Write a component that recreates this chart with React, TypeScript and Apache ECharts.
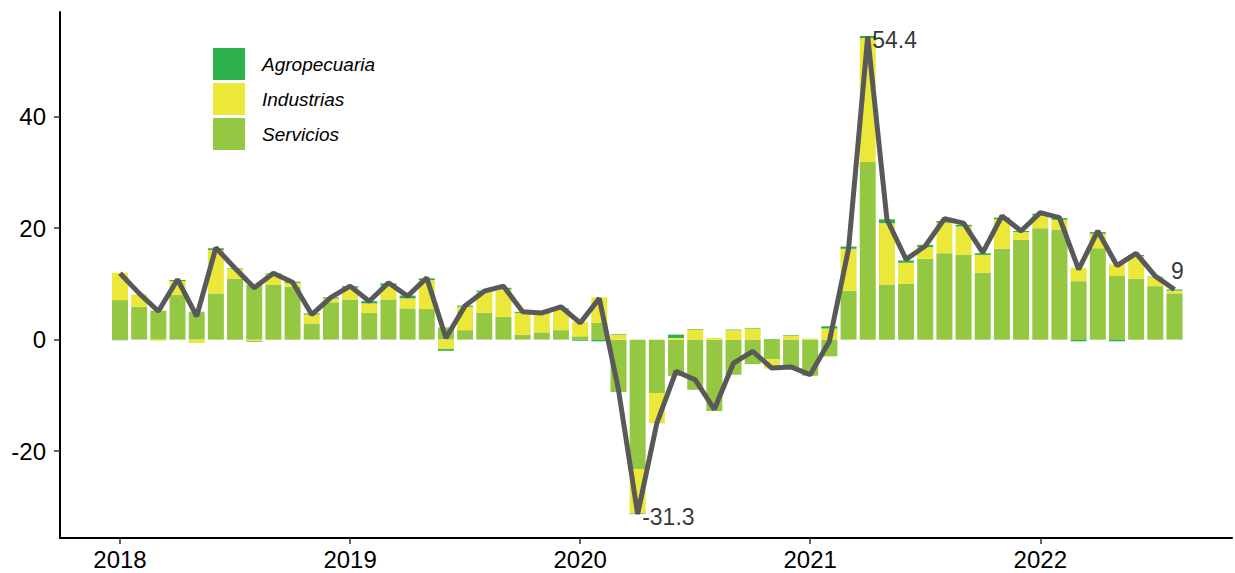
import React, { useEffect, useRef } from "react";
import * as echarts from "echarts";

// Month index 0 = Jan 2018 ... 55 = Aug 2022
const yearTicks = [0, 12, 24, 36, 48];
const yearLabels = ["2018", "2019", "2020", "2021", "2022"];
const yTicks = [-20, 0, 20, 40];

const servicios = [
  7.1, 5.9, 5.2, 8.0, 4.9, 8.3, 10.9, 9.8, 9.9, 9.5, 2.9, 6.7,
  7.2, 4.8, 7.2, 5.6, 5.5, 2.2, 1.7, 4.8, 4.1, 0.9, 1.3, 1.7,
  0.6, 3.0, -9.4, -23.2, -9.6, -6.5, -9.0, -12.8, -6.3, -4.4, -3.5, -4.9,
  -6.5, -3.0, 8.8, 31.9, 9.9, 10.0, 14.5, 15.5, 15.2, 12.0, 16.3, 17.9,
  20.0, 19.7, 10.5, 16.4, 11.4, 10.9, 9.6, 8.3,
];
const industrias = [
  4.9, 2.2, -0.2, 2.5, -0.6, 7.8, 1.8, -0.3, 1.9, 0.7, 1.6, 0.7,
  2.1, 1.7, 2.5, 1.8, 5.2, -1.7, 4.2, 3.8, 4.9, 3.9, 3.4, 3.7,
  2.6, 4.6, 0.9, -8.0, -5.4, 0.3, 1.8, 0.3, 1.7, 2.0, -1.7, 0.7,
  0.2, 2.0, 7.5, 22.2, 11.0, 3.8, 2.1, 5.5, 5.1, 3.2, 5.3, 1.4,
  2.3, 1.8, 2.4, 2.6, 2.1, 4.1, 1.6, 0.5,
];
const agropecuaria = [
  -0.1, 0.0, 0.0, 0.2, 0.1, 0.3, 0.1, -0.1, 0.1, 0.2, 0.2, 0.2,
  0.3, 0.4, 0.4, 0.5, 0.3, -0.3, 0.2, 0.2, 0.3, 0.2, 0.1, 0.2,
  -0.2, -0.3, 0.1, -0.1, 0.0, 0.6, 0.1, 0.0, 0.1, 0.1, 0.1, 0.1,
  0.0, 0.4, 0.4, 0.4, 0.7, 0.4, 0.4, 0.3, 0.3, 0.3, 0.3, 0.2,
  0.3, 0.3, -0.3, 0.3, -0.3, 0.2, 0.1, 0.2,
];
const total = [
  11.9, 8.3, 5.1, 10.8, 4.2, 16.5, 12.8, 9.3, 11.9, 10.3, 4.5, 7.6,
  9.6, 6.9, 10.2, 7.8, 11.1, 0.3, 6.1, 8.7, 9.6, 5.0, 4.8, 5.9,
  3.0, 7.4, -9.0, -31.3, -15.0, -5.7, -7.2, -12.5, -4.2, -2.1, -5.1, -4.9,
  -6.3, -0.3, 16.3, 54.4, 21.6, 14.4, 16.8, 21.7, 20.9, 15.6, 22.2, 19.5,
  22.8, 21.9, 12.6, 19.5, 13.3, 15.5, 11.4, 9.0,
];
const labelledPoints = [27, 39, 55];

const FONT = "'Liberation Sans', Arial, sans-serif";

export default function App() {
  const ref = useRef<HTMLDivElement>(null);
  useEffect(() => {
    if (!ref.current) return;
    const chart = echarts.init(ref.current, undefined, { renderer: "svg" });
    // value first so that it is the stacked dimension; month index second
    const toStackPairs = (arr: number[]) => arr.map((v, i) => [v, i]);
    const toPairs = (arr: number[]) => arr.map((v, i) => [i, v]);
    const barCommon = {
      type: "bar",
      stack: "total",
      barWidth: 16,
      stackStrategy: "samesign",
      encode: { x: 1, y: 0 },
    };
    chart.setOption({
      animation: false,
      textStyle: { fontFamily: FONT },
      grid: { left: 60, right: 3, top: 12, bottom: 35, containLabel: false },
      legend: {
        orient: "vertical",
        left: 213,
        top: 48,
        padding: 0,
        icon: "rect",
        itemWidth: 32,
        itemHeight: 32,
        itemGap: 3,
        data: ["Agropecuaria", "Industrias", "Servicios"],
        textStyle: {
          fontFamily: FONT,
          fontSize: 19,
          fontStyle: "italic",
          color: "#000",
          padding: [0, 0, 0, 12],
        },
      },
      xAxis: {
        type: "value",
        min: -3.13,
        max: 58.0,
        splitLine: { show: false },
        axisLine: { show: true, onZero: false, lineStyle: { color: "#000", width: 2 } },
        axisTick: {
          show: true,
          length: 6,
          lineStyle: { color: "#333", width: 1.5 },
          customValues: yearTicks,
        },
        axisLabel: {
          customValues: yearTicks,
          formatter: (v: number) => yearLabels[yearTicks.indexOf(Math.round(v))] ?? "",
          fontSize: 24,
          color: "#000",
          margin: 9,
          fontFamily: FONT,
        },
      },
      yAxis: {
        type: "value",
        min: -35.6,
        max: 58.8,
        splitLine: { show: false },
        axisLine: { show: true, onZero: false, lineStyle: { color: "#000", width: 2 } },
        axisTick: {
          show: true,
          length: 6,
          lineStyle: { color: "#333", width: 1.5 },
          customValues: yTicks,
        },
        axisLabel: {
          customValues: yTicks,
          fontSize: 24,
          color: "#000",
          margin: 14,
          fontFamily: FONT,
        },
      },
      series: [
        { ...barCommon, name: "Servicios", data: toStackPairs(servicios), itemStyle: { color: "#95C842" } },
        { ...barCommon, name: "Industrias", data: toStackPairs(industrias), itemStyle: { color: "#EBE83A" } },
        { ...barCommon, name: "Agropecuaria", data: toStackPairs(agropecuaria), itemStyle: { color: "#2DB24B" } },
        {
          type: "line",
          name: "Total",
          data: toPairs(total),
          symbol: "none",
          z: 5,
          lineStyle: { color: "#595959", width: 5 },
        },
        {
          type: "scatter",
          name: "labels",
          symbolSize: 1,
          z: 6,
          itemStyle: { color: "rgba(0,0,0,0)" },
          data: labelledPoints.map((i) => {
            const v = total[i];
            const isLast = i === total.length - 1;
            return {
              value: [i, v],
              label: {
                show: true,
                formatter: String(v),
                position: isLast ? "top" : "right",
                distance: isLast ? 6 : 4,
                offset: isLast ? [3, 0] : [0, 3],
                fontSize: 23,
                color: "#000",
                fontFamily: FONT,
              },
            };
          }),
        },
      ],
    });
    return () => chart.dispose();
  }, []);
  return (
    <div
      ref={ref}
      style={{ position: "fixed", left: 0, top: 0, width: 1235, height: 573, background: "#fff" }}
    />
  );
}
